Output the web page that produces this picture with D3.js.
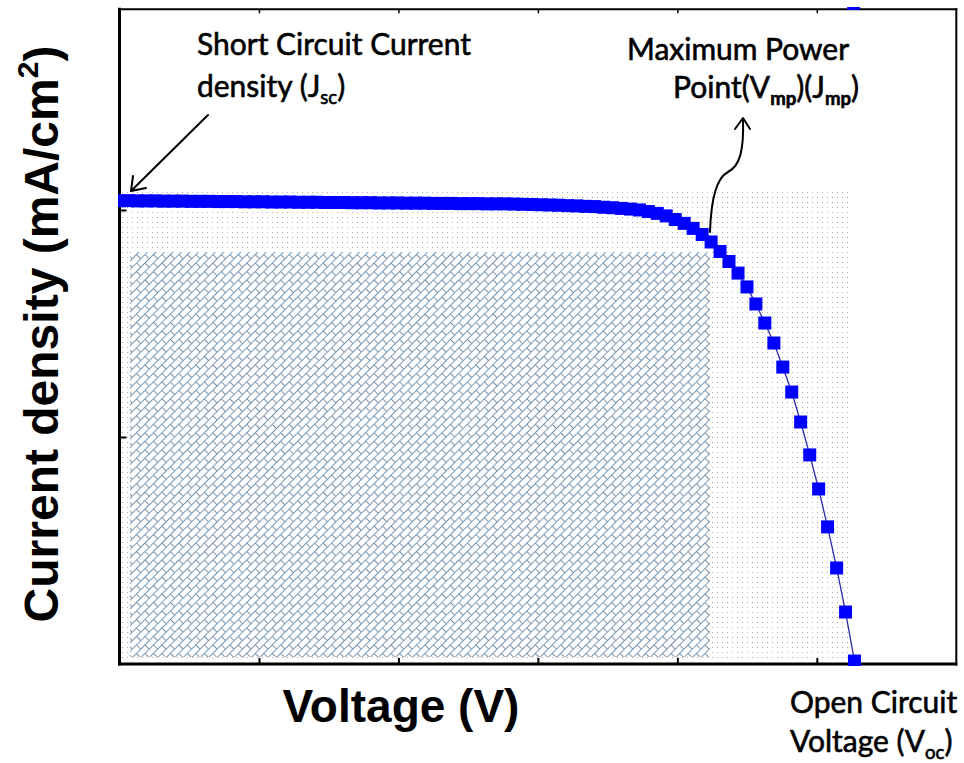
<!DOCTYPE html>
<html>
<head>
<meta charset="utf-8">
<script src="https://cdn.jsdelivr.net/npm/d3@7"></script>
<style>
  html, body { margin: 0; padding: 0; background: #fff; }
  svg { display: block; }
</style>
</head>
<body>
<div id="chart"></div>
<script>
// J–V sweep of the cell (voltage in V, current density in mA/cm²)
const voltage = [
  0.0000, 0.0064, 0.0129, 0.0193, 0.0257, 0.0321, 0.0386, 0.0450, 0.0514, 0.0578,
  0.0643, 0.0707, 0.0771, 0.0836, 0.0900, 0.0964, 0.1028, 0.1093, 0.1157, 0.1221,
  0.1285, 0.1350, 0.1414, 0.1478, 0.1542, 0.1607, 0.1671, 0.1735, 0.1800, 0.1864,
  0.1928, 0.1992, 0.2057, 0.2121, 0.2185, 0.2249, 0.2314, 0.2378, 0.2442, 0.2507,
  0.2571, 0.2635, 0.2699, 0.2764, 0.2828, 0.2892, 0.2956, 0.3021, 0.3085, 0.3149,
  0.3214, 0.3278, 0.3342, 0.3406, 0.3471, 0.3535, 0.3599, 0.3663, 0.3728, 0.3792,
  0.3856, 0.3920, 0.3985, 0.4049, 0.4113, 0.4178, 0.4242, 0.4306, 0.4370, 0.4435,
  0.4499, 0.4563, 0.4627, 0.4692, 0.4756, 0.4820, 0.4884, 0.4949, 0.5013, 0.5077,
  0.5142, 0.5206, 0.5270
];
const currentDensity = [
  20.41, 20.41, 20.40, 20.40, 20.40, 20.39, 20.39, 20.39, 20.38, 20.38,
  20.38, 20.37, 20.37, 20.37, 20.36, 20.36, 20.36, 20.35, 20.35, 20.35,
  20.34, 20.34, 20.34, 20.33, 20.33, 20.33, 20.32, 20.32, 20.32, 20.31,
  20.31, 20.31, 20.30, 20.30, 20.30, 20.29, 20.29, 20.29, 20.28, 20.28,
  20.28, 20.27, 20.27, 20.27, 20.26, 20.25, 20.24, 20.23, 20.22, 20.21,
  20.19, 20.18, 20.16, 20.15, 20.12, 20.10, 20.07, 20.04, 20.00, 19.93,
  19.85, 19.74, 19.58, 19.41, 19.19, 18.92, 18.59, 18.17, 17.73, 17.22,
  16.61, 15.86, 15.02, 14.14, 13.08, 11.98, 10.66, 9.21, 7.71, 6.04,
  4.23, 2.29, 0.13
];
// one reading that lies above the plotted range (drawn clipped at the top edge)
const offRangePoint = [0.5264, 29.1];

// shaded boxes: [V start, V end, J low, J high]
const jscVocBox = [0.0018, 0.5252, 0.22, 20.84];
const maxPowerBox = [0.0075, 0.4234, 0.31, 18.15];

const xDomain = [0, 0.6];
const yDomain = [0, 28.84];
const xTicks = [0.1, 0.2, 0.3, 0.4, 0.5];
const yTicks = [10, 20];

const W = 964, H = 763;
const plot = { left: 119.5, right: 956.3, top: 9.3, bottom: 664 };

const svg = d3.select("#chart").append("svg")
  .attr("width", W).attr("height", H)
  .attr("viewBox", `0 0 ${W} ${H}`);

svg.append("rect").attr("width", W).attr("height", H).attr("fill", "#fff");

const x = d3.scaleLinear().domain(xDomain).range([plot.left, plot.right]);
const y = d3.scaleLinear().domain(yDomain).range([plot.bottom, plot.top]);

const defs = svg.append("defs");

// fine grey dot grid
const dots = defs.append("pattern")
  .attr("id", "dotFill").attr("patternUnits", "userSpaceOnUse")
  .attr("width", 5).attr("height", 5);
dots.append("rect").attr("x", 2).attr("y", 2).attr("width", 1).attr("height", 1)
  .attr("fill", "#a7b0ba");

// diagonal brick hatch
const bricks = defs.append("pattern")
  .attr("id", "brickFill").attr("patternUnits", "userSpaceOnUse")
  .attr("width", 12).attr("height", 12)
  .attr("patternTransform", "rotate(-45)");
bricks.append("rect").attr("width", 12).attr("height", 12).attr("fill", "#fff");
bricks.append("path")
  .attr("d", "M0,0.5H12 M0,6.5H12 M0.5,0.5V6.5 M6.5,6.5V12.5")
  .attr("stroke", "#7a97b0").attr("stroke-width", 1).attr("fill", "none");

defs.append("clipPath").attr("id", "plotClip")
  .append("rect").attr("x", 118).attr("y", 7)
  .attr("width", 958 - 118).attr("height", 666 - 7);

function boxRect(b) {
  return { x: x(b[0]), y: y(b[3]), w: x(b[1]) - x(b[0]), h: y(b[2]) - y(b[3]) };
}

const outer = boxRect(jscVocBox);
svg.append("rect")
  .attr("x", outer.x).attr("y", outer.y).attr("width", outer.w).attr("height", outer.h)
  .attr("fill", "url(#dotFill)");

const inner = boxRect(maxPowerBox);
svg.append("rect")
  .attr("x", inner.x).attr("y", inner.y).attr("width", inner.w).attr("height", inner.h)
  .attr("fill", "url(#brickFill)");

// frame
const frame = svg.append("g").attr("stroke", "#000").attr("fill", "none");
frame.append("line").attr("x1", plot.left).attr("x2", plot.left)
  .attr("y1", plot.top - 1.5).attr("y2", plot.bottom + 1.5).attr("stroke-width", 3);
frame.append("line").attr("x1", plot.left - 1.5).attr("x2", plot.right + 1)
  .attr("y1", plot.bottom).attr("y2", plot.bottom).attr("stroke-width", 3);
frame.append("line").attr("x1", plot.left - 1.5).attr("x2", plot.right + 1)
  .attr("y1", plot.top).attr("y2", plot.top).attr("stroke-width", 2);
frame.append("line").attr("x1", plot.right).attr("x2", plot.right)
  .attr("y1", plot.top - 1).attr("y2", plot.bottom + 1.5).attr("stroke-width", 2);

// inward ticks, no labels
function styleAxis(g, width) {
  g.select(".domain").remove();
  g.selectAll(".tick line").attr("stroke", "#000").attr("stroke-width", width);
  g.selectAll(".tick text").remove();
}
svg.append("g").attr("transform", `translate(0,${plot.bottom})`)
  .call(d3.axisBottom(x).tickValues(xTicks).tickSize(-6).tickSizeOuter(0).tickFormat(""))
  .call(g => styleAxis(g, 2));
svg.append("g").attr("transform", `translate(0,${plot.top})`)
  .call(d3.axisTop(x).tickValues(xTicks).tickSize(-4).tickSizeOuter(0).tickFormat(""))
  .call(g => styleAxis(g, 1.5));
svg.append("g").attr("transform", `translate(${plot.left},0)`)
  .call(d3.axisLeft(y).tickValues(yTicks).tickSize(-7).tickSizeOuter(0).tickFormat(""))
  .call(g => styleAxis(g, 2));

// J–V curve
const pts = voltage.map((v, i) => [v, currentDensity[i]]);
const series = svg.append("g").attr("clip-path", "url(#plotClip)");
series.append("path")
  .datum(pts)
  .attr("d", d3.line().x(d => x(d[0])).y(d => y(d[1])))
  .attr("fill", "none").attr("stroke", "#2a2ab0").attr("stroke-width", 1.3);
const ms = 13;
series.selectAll("rect.marker")
  .data(pts.concat([offRangePoint]))
  .join("rect").attr("class", "marker")
  .attr("x", d => x(d[0]) - ms / 2).attr("y", d => y(d[1]) - ms / 2)
  .attr("width", ms).attr("height", ms)
  .attr("fill", "#0000fe");

// annotation text
const annoFont = "Lato, 'Open Sans', sans-serif";
const probe = svg.append("text").attr("font-family", annoFont).attr("font-size", 33)
  .text("Short Circuit Current");
const annoSize = 33 * 274 / probe.node().getComputedTextLength();
probe.remove();

function annoLine(xp, yp, parts) {
  const t = svg.append("text").attr("x", xp).attr("y", yp)
    .attr("font-family", annoFont).attr("font-size", annoSize).attr("fill", "#000")
    .attr("stroke", "#000").attr("stroke-width", 0.6);
  parts.forEach(p => {
    const s = t.append("tspan").text(p.t);
    if (p.sub) {
      s.attr("font-size", annoSize * 0.62).attr("dy", annoSize * 0.22);
      if (p.bold) s.attr("font-weight", "bold");
    }
    if (p.back) s.attr("dy", -annoSize * 0.22);
  });
  return t;
}

annoLine(197, 55, [{ t: "Short Circuit Current" }]);
annoLine(197, 97, [{ t: "density (J" }, { t: "sc", sub: true }, { t: ")", back: true }]);
annoLine(627, 60, [{ t: "Maximum Power" }]);
annoLine(673, 98, [
  { t: "Point(V" }, { t: "mp", sub: true, bold: true }, { t: ")(J", back: true },
  { t: "mp", sub: true, bold: true }, { t: ")", back: true }
]);
annoLine(790, 713, [{ t: "Open Circuit" }]);
annoLine(790, 752, [{ t: "Voltage (V" }, { t: "oc", sub: true }, { t: ")", back: true }]);

// annotation arrows
const arrows = svg.append("g").attr("stroke", "#000").attr("stroke-width", 2)
  .attr("fill", "none").attr("stroke-linecap", "round").attr("stroke-linejoin", "round");
arrows.append("path").attr("d", "M208,115 L131,191");
arrows.append("path").attr("d", "M133,176 L131,191 L146,188");
arrows.append("path").attr("d", "M710,232 C711,200 716,178 728,172 C740,166 744,150 743,119");
arrows.append("path").attr("d", "M735,129 L743,118 L750,129");

// axis titles
svg.append("text")
  .attr("x", 401).attr("y", 722).attr("text-anchor", "middle")
  .attr("font-family", "'Liberation Sans', Arial, sans-serif")
  .attr("font-weight", "bold").attr("font-size", 46).attr("fill", "#000")
  .text("Voltage (V)");

const yt = svg.append("text")
  .attr("transform", "translate(58,334) rotate(-90)")
  .attr("text-anchor", "middle")
  .attr("font-family", "'Liberation Sans', Arial, sans-serif")
  .attr("font-weight", "bold").attr("font-size", 48).attr("fill", "#000");
yt.append("tspan").text("Current density (mA/cm");
yt.append("tspan").text("2").attr("font-size", 30).attr("dy", -20);
yt.append("tspan").text(")").attr("dy", 20);
</script>
</body>
</html>
